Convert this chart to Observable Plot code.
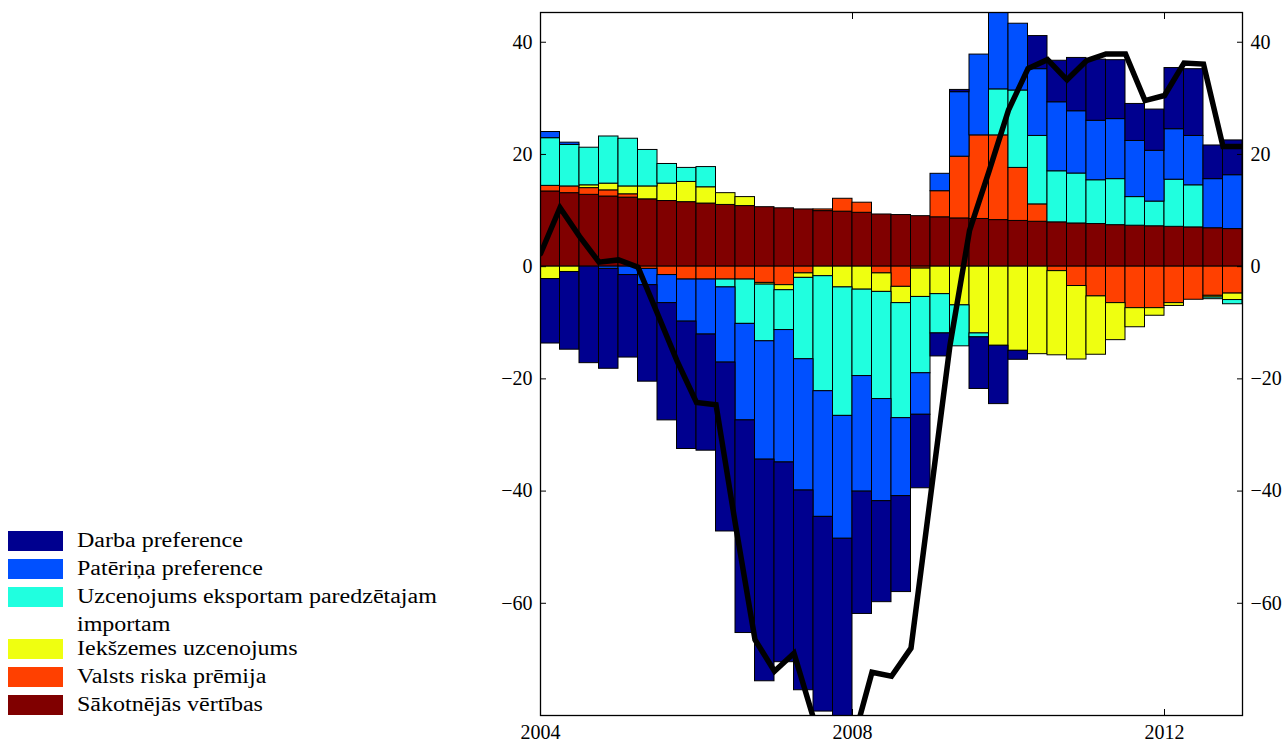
<!DOCTYPE html>
<html>
<head>
<meta charset="utf-8">
<script src="https://cdn.jsdelivr.net/npm/d3@7"></script>
<script src="https://cdn.jsdelivr.net/npm/@observablehq/plot@0.6"></script>
<style>
  html, body { margin: 0; padding: 0; background: #fff; overflow: hidden; }
  #wrap { position: relative; width: 1285px; height: 744px; font-family: "Liberation Serif", "Times New Roman", serif; }
  #chart { position: absolute; left: 0; top: 0; }
  #chart svg text { font-family: "Liberation Serif", "Times New Roman", serif; }
  .sw { position: absolute; left: 8px; width: 55px; height: 20px; }
  .lab { position: absolute; left: 77px; font-size: 20px; line-height: 28px; width: 320px;
         transform: scaleX(1.2); transform-origin: 0 0; color: #000; }
</style>
</head>
<body>
<div id="wrap"><div id="chart"></div><div id="legend"></div></div>
<script>
// ---- Data ----
const quarters = [
  "2004Q1","2004Q2","2004Q3","2004Q4","2005Q1","2005Q2","2005Q3","2005Q4",
  "2006Q1","2006Q2","2006Q3","2006Q4","2007Q1","2007Q2","2007Q3","2007Q4",
  "2008Q1","2008Q2","2008Q3","2008Q4","2009Q1","2009Q2","2009Q3","2009Q4",
  "2010Q1","2010Q2","2010Q3","2010Q4","2011Q1","2011Q2","2011Q3","2011Q4",
  "2012Q1","2012Q2","2012Q3","2012Q4"
];

const seriesNames = [
  "Darba preference",
  "Patēriņa preference",
  "Uzcenojums eksportam paredzētajam importam",
  "Iekšzemes uzcenojums",
  "Valsts riska prēmija",
  "Sākotnējās vērtības"
];
const seriesColors = ["#00008F", "#0050FF", "#20FFDF", "#EFFF10", "#FF4000", "#800000"];

const darbaPreference = [
  -11.5, -13.85, -17.2, -17.8, -14.7, -17.2, -20.9, -22.7, -20.7, -30.1, -37.9, -39.5,
  -35.6, -35.6, -34.7, -33.5, -21.8, -18.0, -17.1, -13.1, -4.1, 0.4, -9.2, -10.4,
  -1.6, 5.9, 7.4, 9.5, 10.9, 10.5, 6.6, 7.35, 10.9, 11.9, 6.0, 6.2
];
const pateriniaPreference = [
  1.1, 0.4, 0, -0.4, -1.5, -2.9, -5.0, -7.5, -9.8, -13.4, -17.2, -21.1,
  -23.6, -23.4, -22.4, -21.9, -20.6, -18.2, -13.9, -7.4, 3.1, 11.5, 14.4, 14.5,
  11.9, 11.9, 12.3, 11.1, 10.6, 10.7, 10.0, 9.05, 9.0, 8.8, 8.75, 9.6
];
const uzcenojumsEksportam = [
  8.5, 7.4, 6.7, 8.4, 8.5, 6.5, 3.5, 2.5, 3.6, -1.4, -7.9, -10.1,
  -7.1, -14.5, -20.5, -22.9, -15.4, -19.1, -20.5, -13.6, -7.0, -7.3, -0.7, 8.2,
  13.8, 12.2, 9.1, 8.9, 7.8, 8.2, 5.1, 4.4, 8.4, 7.5, -0.3, -0.75
];
const iekszemesUzcenojums = [
  -2.2, -0.95, 0.5, 1.2, 1.4, 2.3, 3.1, 3.6, 2.9, 2.1, 1.6, -0.3,
  -0.9, -0.8, -1.7, -3.7, -4.1, -3.3, -2.9, -5.05, -4.9, -6.9, -11.9, -14.1,
  -15.0, -15.6, -15.0, -13.1, -10.4, -6.6, -3.4, -1.35, -0.5, 0, -0.3, -1.15
];
const valstsRiskaPremija = [
  1.0, 1.2, 1.2, 1.1, 0.6, -0.4, -1.5, -2.3, -2.3, -2.3, -2.3, -2.9,
  -3.3, -1.2, 0.3, 2.3, 1.8, -1.2, -3.6, -0.35, 4.65, 11.0, 14.9, 15.1,
  9.45, 3.1, -0.8, -3.45, -5.3, -6.5, -7.4, -7.4, -6.5, -5.9, -5.2, -4.8
];
const sakotnejasVertibas = [
  13.4, 13.1, 12.8, 12.5, 12.3, 12.0, 11.7, 11.5, 11.25, 11.0, 10.8, 10.6,
  10.4, 10.2, 9.9, 9.8, 9.6, 9.3, 9.2, 9.0, 8.8, 8.6, 8.5, 8.3,
  8.15, 8.0, 7.9, 7.7, 7.6, 7.4, 7.3, 7.2, 7.1, 7.0, 6.85, 6.7
];

// Total deviation line, at quarter boundaries (start of 2004Q1 ... end of 2012Q4)
const lineValues = [
  2.3, 10.5, 5.4, 0.8, 1.2, -0.1, -8.4, -16.8, -24.2, -24.6, -46, -66.5,
  -72.1, -68.9, -80.5, -88, -85, -72.3, -73.0, -68.0, -41, -14, 6.4, 17,
  27.9, 35.3, 36.9, 33.3, 36.7, 37.9, 37.9, 29.6, 30.5, 36.3, 36.1, 21.4, 21.4
];

const xTicks = [2004, 2008, 2012];
const yTicks = [-60, -40, -20, 0, 20, 40];

// ---- Build table ----
const seriesValues = [darbaPreference, pateriniaPreference, uzcenojumsEksportam,
                      iekszemesUzcenojums, valstsRiskaPremija, sakotnejasVertibas];
const qStart = q => +q.slice(0, 4) + (+q.slice(5) - 1) * 0.25;
const stackOrder = [5, 4, 3, 2, 1, 0]; // from zero outward
const rows = [];
for (const s of stackOrder) {
  seriesValues[s].forEach((v, i) => {
    rows.push({series: seriesNames[s], x1: qStart(quarters[i]), x2: qStart(quarters[i]) + 0.25, value: v});
  });
}
const linePts = lineValues.map((v, i) => ({x: qStart(quarters[0]) + i * 0.25, y: v}));

const minus = d => (d < 0 ? "\u2212" + Math.abs(d) : String(d));
const serif = "'Liberation Serif', 'Times New Roman', serif";

const chart = Plot.plot({
  width: 1285,
  height: 744,
  marginLeft: 540,
  marginRight: 43,
  marginTop: 12,
  marginBottom: 29,
  style: {fontFamily: serif, background: "white", color: "black"},
  x: {domain: [2004, 2013]},
  y: {domain: [-80, 45.3]},
  color: {domain: seriesNames, range: seriesColors},
  marks: [
    Plot.rectY(rows, Plot.stackY({
      x1: "x1", x2: "x2", y: "value", z: "series", fill: "series", order: null,
      stroke: "black", strokeWidth: 1, clip: true
    })),
    Plot.line(linePts, {x: "x", y: "y", stroke: "black", strokeWidth: 5.5,
      strokeLinejoin: "miter", strokeMiterlimit: 4, clip: true}),
    Plot.frame({stroke: "black", strokeWidth: 1.3}),
    Plot.axisY({anchor: "left", ticks: yTicks, tickSize: -6, tickPadding: 14,
      tickFormat: minus, fontSize: 20, fontFamily: serif, label: null}),
    Plot.axisY({anchor: "right", ticks: yTicks, tickSize: -6, tickPadding: 14,
      tickFormat: minus, fontSize: 20, fontFamily: serif, label: null}),
    Plot.axisX({anchor: "bottom", ticks: xTicks, tickSize: -6, tickPadding: 15,
      tickFormat: d => String(d), fontSize: 20, fontFamily: serif, label: null}),
    Plot.axisX({anchor: "top", ticks: xTicks, tickSize: -6,
      tickFormat: () => "", label: null})
  ]
});
document.getElementById("chart").appendChild(chart);

// ---- Legend (HTML, left bottom) ----
const legend = document.getElementById("legend");
seriesNames.forEach((name, i) => {
  const top = 531 + 28 * i + (i >= 3 ? 24 : 0);
  const sw = document.createElement("div");
  sw.className = "sw";
  sw.style.top = top + "px";
  sw.style.background = seriesColors[i];
  legend.appendChild(sw);
  const lab = document.createElement("div");
  lab.className = "lab";
  lab.style.top = (top - 5) + "px";
  lab.textContent = name;
  legend.appendChild(lab);
});
</script>
</body>
</html>
